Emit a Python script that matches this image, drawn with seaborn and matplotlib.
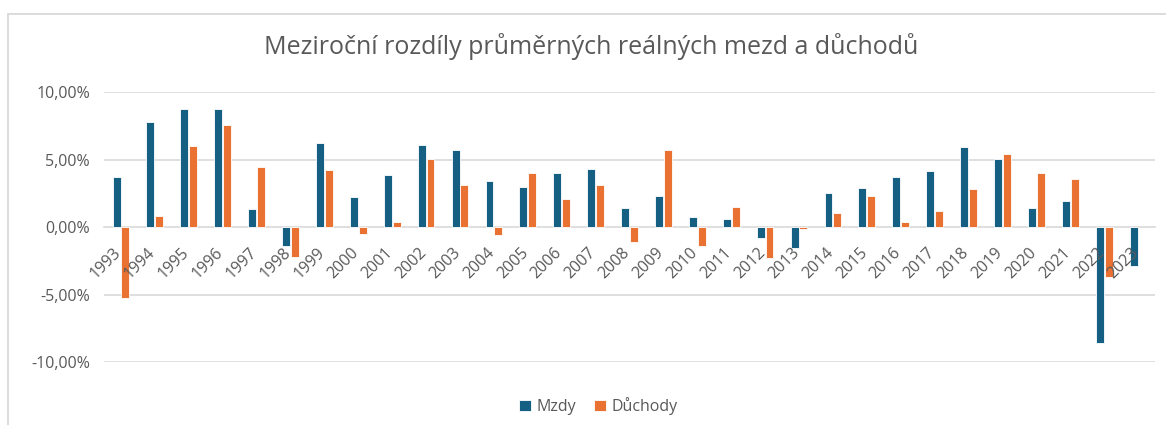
import numpy as np
import pandas as pd
import matplotlib
matplotlib.use("Agg")
import matplotlib.pyplot as plt
from matplotlib.lines import Line2D
from matplotlib.ticker import FuncFormatter, MultipleLocator
from matplotlib.transforms import ScaledTranslation
import seaborn as sns

years = [str(y) for y in range(1993, 2024)]
mzdy = [3.73, 7.80, 8.72, 8.72, 1.31, -1.38, 6.22, 2.22, 3.88, 6.05,
        5.70, 3.43, 2.99, 4.02, 4.32, 1.41, 2.30, 0.72, 0.57, -0.79,
        -1.56, 2.52, 2.91, 3.73, 4.17, 5.93, 5.01, 1.41, 1.93, -8.57, -2.91]
duchody = [-5.25, 0.79, 6.00, 7.58, 4.47, -2.22, 4.20, -0.49, 0.40, 5.04,
           3.11, -0.62, 4.02, 2.07, 3.11, -1.11, 5.70, -1.38, 1.51, -2.30,
           -0.17, 1.01, 2.30, 0.40, 1.16, 2.81, 5.38, 4.02, 3.58, -3.73, np.nan]
series_names = ["Mzdy", "Důchody"]
colors = ["#156082", "#E97132"]

df = pd.DataFrame({
    "rok": years * 2,
    "hodnota": mzdy + duchody,
    "serie": [series_names[0]] * len(years) + [series_names[1]] * len(years),
})

sns.set_theme(style="white")
plt.rcParams["font.family"] = ["Open Sans", "DejaVu Sans"]
text_col = "#595959"
grid_col = "#D9D9D9"

fig = plt.figure(figsize=(11.66, 4.25), dpi=100)
ax = fig.add_axes([104 / 1166, 1 - 362 / 425, (1155 - 104) / 1166, (362 - 92) / 425])

sns.barplot(data=df, x="rok", y="hodnota", hue="serie", palette=colors,
            saturation=1, width=0.52, gap=0.1, edgecolor="white", linewidth=0.6,
            dodge=True, ax=ax, legend=True, zorder=1)

ax.set_ylim(-10, 10)
ax.set_xlim(-0.5, len(years) - 0.5)
ax.yaxis.set_major_locator(MultipleLocator(5))
ax.yaxis.set_major_formatter(FuncFormatter(lambda v, p: f"{v:.2f}".replace(".", ",") + "%"))
ax.grid(False)
for t in ax.get_yticks():
    if -10 <= t <= 10 and t != 0:
        ax.axhline(t, color=grid_col, linewidth=1.2, zorder=0)
ax.set_axisbelow(False)
for s in ["top", "right", "left"]:
    ax.spines[s].set_visible(False)
ax.spines["bottom"].set_position(("data", 0))
ax.spines["bottom"].set_color(grid_col)
ax.spines["bottom"].set_linewidth(1.2)
ax.spines["bottom"].set_zorder(0.5)
ax.tick_params(axis="both", length=0, colors=text_col, labelsize=11.5)
ax.tick_params(axis="y", pad=10)
ax.tick_params(axis="x", pad=17)
ax.set_xlabel("")
ax.set_ylabel("")
offset = ScaledTranslation(-2 / 100, 0, fig.dpi_scale_trans)
for lab in ax.get_xticklabels():
    lab.set_rotation(45)
    lab.set_ha("right")
    lab.set_va("center")
    lab.set_rotation_mode("anchor")
    lab.set_color(text_col)
    lab.set_transform(lab.get_transform() + offset)

leg = ax.legend(loc="center", bbox_to_anchor=(598 / 1166, 1 - 406 / 425),
                bbox_transform=fig.transFigure, ncol=2, frameon=False,
                fontsize=11.5, handlelength=0.75, handleheight=0.75, handletextpad=0.35,
                columnspacing=1.1)
for t in leg.get_texts():
    t.set_color(text_col)

fig.text(0.507, 1 - 47 / 425, "Meziroční rozdíly průměrných reálných mezd a důchodů",
         ha="center", va="center", fontsize=18, color=text_col,
         family=["Open Sans", "DejaVu Sans"])

fig.add_artist(Line2D([8 / 1166, 1], [1 - 14 / 425, 1 - 14 / 425], color=grid_col, linewidth=1.3))
fig.add_artist(Line2D([8 / 1166, 8 / 1166], [0, 1 - 14 / 425], color=grid_col, linewidth=1.3))

fig.savefig("out.png", dpi=100, facecolor="white")
